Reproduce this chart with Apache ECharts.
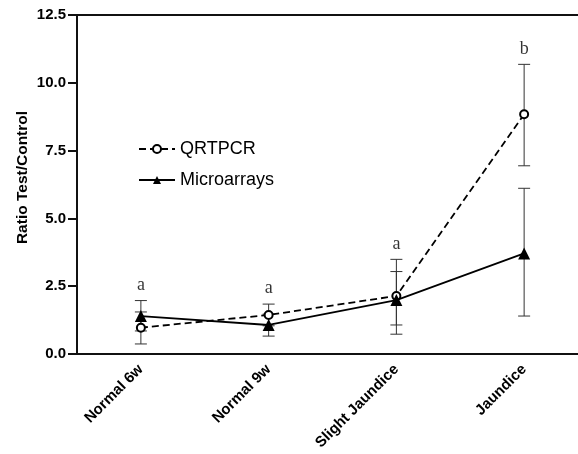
<!DOCTYPE html>
<html>
<head>
<meta charset="utf-8">
<script src="https://cdn.jsdelivr.net/npm/echarts@6/dist/echarts.min.js"></script>
<style>html,body{margin:0;padding:0;background:#fff;overflow:hidden}#c{width:588px;height:454px}</style>
</head>
<body>
<div id="c"></div>
<script>
const categories = ['Normal 6w', 'Normal 9w', 'Slight Jaundice', 'Jaundice'];
const yTicks = [0, 2.5, 5, 7.5, 10, 12.5];
const qrtpcr = [0.97, 1.44, 2.14, 8.84];
const qrtpcrLow = [0.37, 1.04, 0.73, 6.94];
const qrtpcrHigh = [1.55, 1.84, 3.49, 10.68];
const micro = [1.40, 1.07, 1.99, 3.71];
const microLow = [0.85, 0.66, 1.07, 1.40];
const microHigh = [1.97, 1.47, 3.04, 6.11];
const letters = ['a', 'a', 'a', 'b'];

const chart = echarts.init(document.getElementById('c'), null, {renderer: 'canvas'});

function errData(low, high) {
  return categories.map((c, i) => [i, low[i], high[i]]);
}
function errRender(params, api) {
  const x = api.value(0);
  const lo = api.coord([x, api.value(1)]);
  const hi = api.coord([x, api.value(2)]);
  const cap = 6;
  const st = {stroke: '#333', lineWidth: 1};
  return {
    type: 'group',
    children: [
      {type: 'line', shape: {x1: lo[0], y1: lo[1], x2: hi[0], y2: hi[1]}, style: st},
      {type: 'line', shape: {x1: lo[0] - cap, y1: lo[1], x2: lo[0] + cap, y2: lo[1]}, style: st},
      {type: 'line', shape: {x1: hi[0] - cap, y1: hi[1], x2: hi[0] + cap, y2: hi[1]}, style: st}
    ]
  };
}
const letterData = categories.map((c, i) => ({value: [i, Math.max(qrtpcrHigh[i], microHigh[i])], label: {formatter: letters[i]}}));

chart.setOption({
  animation: false,
  backgroundColor: '#fff',
  grid: {left: 77, top: 15, bottom: 100, right: 0, show: true, borderColor: '#111', borderWidth: 2},
  legend: {
    orient: 'vertical', left: 133, top: 135, itemWidth: 36, itemHeight: 10, itemGap: 13,
    textStyle: {fontFamily: 'Liberation Sans, Arial', fontSize: 18, color: '#000'},
    data: ['QRTPCR', 'Microarrays']
  },
  xAxis: {
    type: 'category', data: categories, boundaryGap: true,
    axisLine: {lineStyle: {color: '#111', width: 2}},
    axisTick: {show: false},
    axisLabel: {rotate: 45, margin: 13, interval: 0, color: '#000', fontWeight: 'bold', fontSize: 15, fontFamily: 'Liberation Sans, Arial'},
    splitLine: {show: false}
  },
  yAxis: {
    type: 'value', min: yTicks[0], max: yTicks[yTicks.length - 1], interval: 2.5,
    name: 'Ratio Test/Control', nameLocation: 'middle', nameGap: 46, nameMoveOverlap: false,
    nameTextStyle: {color: '#000', fontWeight: 'bold', fontSize: 15.5, fontFamily: 'Liberation Sans, Arial', padding: [0, 0, 0, 14]},
    axisLine: {show: true, lineStyle: {color: '#111', width: 2}},
    axisTick: {show: true, length: 9, lineStyle: {color: '#111', width: 2}},
    axisLabel: {margin: 11, color: '#000', fontWeight: 'bold', fontSize: 15, fontFamily: 'Liberation Sans, Arial', formatter: v => v.toFixed(1)},
    splitLine: {show: false}
  },
  series: [
    {type: 'custom', name: 'errQ', renderItem: errRender, data: errData(qrtpcrLow, qrtpcrHigh), z: 1, silent: true},
    {type: 'custom', name: 'errM', renderItem: errRender, data: errData(microLow, microHigh), z: 1, silent: true},
    {
      type: 'line', name: 'QRTPCR', data: qrtpcr, symbol: 'emptyCircle', symbolSize: 8,
      lineStyle: {color: '#000', width: 1.8, type: [7, 4]},
      itemStyle: {color: '#000', borderColor: '#000', borderWidth: 1.8}, z: 3
    },
    {
      type: 'line', name: 'Microarrays', data: micro, symbol: 'triangle', symbolSize: 12,
      lineStyle: {color: '#000', width: 1.8},
      itemStyle: {color: '#000'}, z: 4
    },
    {
      type: 'scatter', name: 'letters', data: letterData, symbolSize: 1, itemStyle: {color: 'rgba(0,0,0,0)'},
      label: {show: true, position: 'top', distance: 6, color: '#000', fontFamily: 'Liberation Serif, Times New Roman', fontSize: 18},
      silent: true, z: 5
    }
  ]
});
</script>
</body>
</html>
